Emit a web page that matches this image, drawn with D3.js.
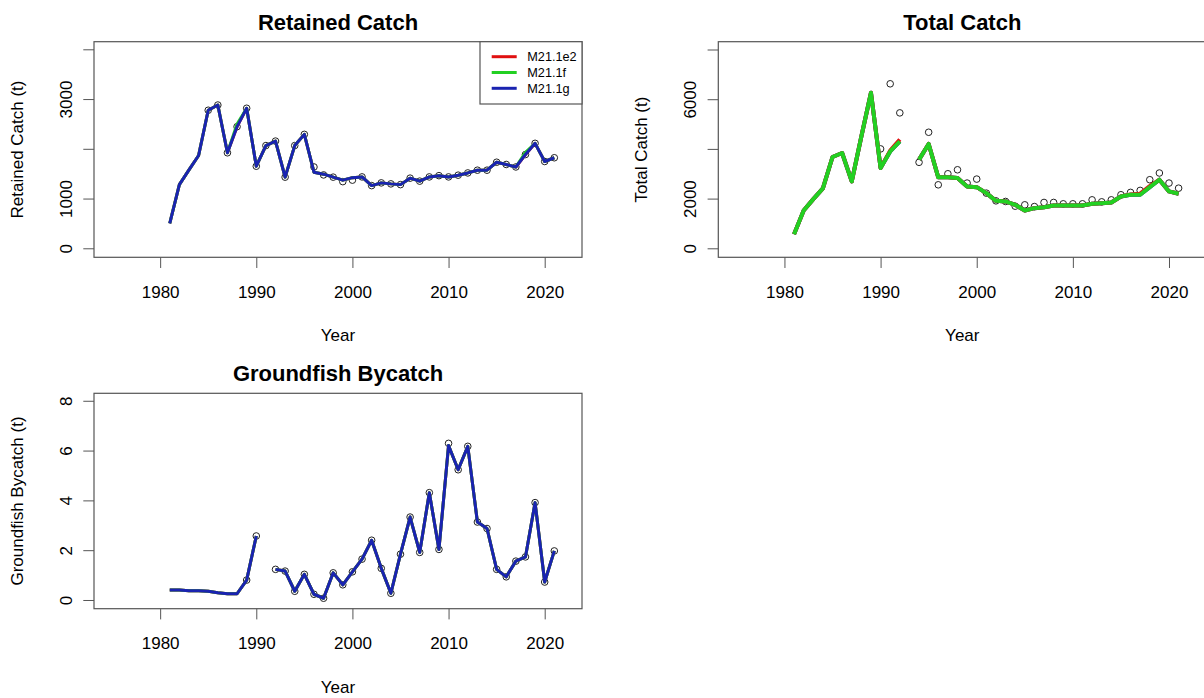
<!DOCTYPE html>
<html>
<head>
<meta charset="utf-8">
<script src="https://cdn.jsdelivr.net/npm/d3@7"></script>
<style>
  html, body { margin: 0; padding: 0; background: #fff; }
  svg { display: block; }
  text { font-family: "Liberation Sans", Arial, sans-serif; fill: #000; }
</style>
</head>
<body>
<svg id="chart" width="1204" height="698"></svg>
<script>
// ---- data -------------------------------------------------------------
const years = [1981,1982,1983,1984,1985,1986,1987,1988,1989,1990,
               1991,1992,1993,1994,1995,1996,1997,1998,1999,2000,
               2001,2002,2003,2004,2005,2006,2007,2008,2009,2010,
               2011,2012,2013,2014,2015,2016,2017,2018,2019,2020,2021];

const models = ["M21.1e2", "M21.1f", "M21.1g"];
const modelColors = ["#e01010", "#22d022", "#1a23b0"];

// Retained catch (t)
const retainedObs = [null,null,null,null,2775,2880,1920,2445,2815,1650,
                     2065,2155,1430,2065,2290,1635,1475,1430,1340,1370,
                     1435,1260,1315,1295,1280,1410,1350,1435,1460,1435,
                     1470,1515,1570,1570,1730,1685,1635,1885,2110,1745,1820];
const retainedE2  = [500,1280,1575,1865,2775,2880,1920,2445,2815,1650,
                     2065,2155,1430,2065,2290,1530,1490,1430,1370,1420,
                     1435,1260,1315,1295,1280,1410,1350,1435,1460,1435,
                     1470,1515,1570,1570,1730,1685,1635,1885,2110,1745,1820];
const retainedF   = [500,1280,1575,1865,2775,2880,1920,2500,2815,1650,
                     2065,2155,1430,2065,2290,1530,1490,1430,1370,1420,
                     1435,1260,1315,1295,1280,1410,1350,1435,1460,1435,
                     1470,1515,1570,1570,1730,1685,1635,1930,2110,1745,1820];
const retainedG   = [500,1280,1575,1865,2775,2880,1920,2445,2815,1650,
                     2065,2155,1430,2065,2290,1530,1490,1430,1370,1420,
                     1435,1260,1315,1295,1280,1410,1350,1435,1460,1435,
                     1470,1515,1570,1570,1730,1685,1635,1885,2110,1745,1820];

// Total catch (t)
const totalObs = [null,null,null,null,null,null,null,null,null,4000,
                  6620,5450,null,3460,4670,2555,3000,3160,2625,2785,
                  2220,1910,1885,1695,1750,1680,1845,1845,1790,1790,
                  1790,1950,1870,1950,2155,2250,2330,2760,3030,2625,2420];
const totalE2  = [565,1520,1980,2410,3675,3835,2690,4500,6260,3230,
                  3930,4380,null,3570,4200,2855,2855,2830,2490,2460,
                  2220,1910,1885,1750,1520,1615,1655,1720,1720,1720,
                  1720,1790,1815,1845,2085,2170,2200,2500,2760,2290,2195];
const totalF   = [565,1520,1980,2410,3675,3835,2690,4500,6260,3230,
                  3900,4300,null,3570,4200,2855,2855,2830,2490,2460,
                  2220,1910,1885,1750,1520,1615,1655,1720,1720,1720,
                  1720,1790,1815,1845,2085,2155,2155,2460,2760,2290,2195];
const totalG   = [565,1520,1980,2410,3675,3835,2690,4500,6260,3230,
                  3900,4300,null,3570,4200,2855,2855,2830,2490,2460,
                  2220,1910,1885,1750,1520,1615,1655,1720,1720,1720,
                  1720,1790,1815,1845,2085,2155,2155,2460,2760,2290,2195];

// Groundfish bycatch (t)
const bycatchObs = [null,null,null,null,null,null,null,null,0.80,2.57,
                    null,1.23,1.16,0.35,1.03,0.23,0.07,1.09,0.61,1.13,
                    1.64,2.40,1.27,0.27,1.84,3.33,1.91,4.31,2.03,6.29,
                    5.23,6.17,3.13,2.87,1.23,0.93,1.56,1.73,3.91,0.72,1.97];
const bycatchFit = [0.40,0.40,0.37,0.37,0.35,0.29,0.25,0.25,0.80,2.57,
                    null,1.23,1.16,0.35,1.03,0.23,0.07,1.09,0.61,1.13,
                    1.64,2.40,1.27,0.27,1.84,3.33,1.91,4.31,2.03,6.20,
                    5.23,6.17,3.13,2.87,1.23,0.93,1.56,1.73,3.91,0.72,1.97];

// axis ticks and labels
const xTicks = [1980, 1990, 2000, 2010, 2020];
const retainedTicks = [0, 1000, 2000, 3000, 4000];
const retainedLabels = ["0", "1000", "", "3000", ""];
const totalTicks = [0, 2000, 4000, 6000, 8000];
const totalLabels = ["0", "2000", "", "6000", ""];
const bycatchTicks = [0, 2, 4, 6, 8];
const bycatchLabels = ["0", "2", "4", "6", "8"];

// ---- drawing ----------------------------------------------------------
const svg = d3.select("#chart");
const axisColor = "#555";
const xDomain = [1973.12, 2023.88];

function panel(opts) {
  const { left, right, top, bottom } = opts.box;
  const g = svg.append("g");
  const x = d3.scaleLinear().domain(xDomain).range([left, right]);
  const y = d3.scaleLinear().domain(opts.yDomain).range([bottom, top]);

  // clip region for marks
  const clipId = "clip-" + opts.id;
  svg.append("clipPath").attr("id", clipId)
    .append("rect").attr("x", left).attr("y", top)
    .attr("width", right - left).attr("height", bottom - top);
  const marks = g.append("g").attr("clip-path", `url(#${clipId})`);

  // observations: open circles
  marks.selectAll("circle.obs")
    .data(years.map((yr, i) => ({ yr, v: opts.obs[i] })).filter(d => d.v != null))
    .join("circle")
    .attr("class", "obs")
    .attr("cx", d => x(d.yr))
    .attr("cy", d => y(d.v))
    .attr("r", 3.3)
    .attr("fill", "none")
    .attr("stroke", "#222")
    .attr("stroke-width", 1);

  // model fits
  const line = d3.line()
    .defined(d => d.v != null)
    .x(d => x(d.yr))
    .y(d => y(d.v));
  opts.fits.forEach(f => {
    marks.append("path")
      .datum(years.map((yr, i) => ({ yr, v: f.values[i] })))
      .attr("d", line)
      .attr("fill", "none")
      .attr("stroke", f.color)
      .attr("stroke-width", f.width)
      .attr("stroke-linejoin", "round")
      .attr("stroke-linecap", "butt");
  });

  // x axis
  const xAxis = g.append("g")
    .attr("transform", `translate(0,${bottom})`)
    .call(d3.axisBottom(x).tickValues(xTicks).tickFormat(d3.format("d"))
      .tickSize(10.7).tickPadding(17.5));
  xAxis.select(".domain").remove();
  xAxis.selectAll("line").attr("stroke", axisColor);
  xAxis.selectAll("text").attr("font-size", 17).attr("fill", "#000")
    .style("font-family", "'Liberation Sans', Arial, sans-serif");

  // y axis with labels written along the axis
  const yAxis = g.append("g")
    .attr("transform", `translate(${left},0)`)
    .call(d3.axisLeft(y).tickValues(opts.yTicks)
      .tickFormat((d, i) => opts.yLabels[i]).tickSize(10.7));
  yAxis.select(".domain").remove();
  yAxis.selectAll("line").attr("stroke", axisColor);
  yAxis.selectAll("text")
    .attr("transform", "rotate(-90)")
    .attr("x", 0).attr("y", -22).attr("dy", 0)
    .attr("text-anchor", "middle")
    .attr("font-size", 17).attr("fill", "#000")
    .style("font-family", "'Liberation Sans', Arial, sans-serif");

  // plot frame
  g.append("rect")
    .attr("x", left).attr("y", top)
    .attr("width", right - left).attr("height", bottom - top)
    .attr("fill", "none").attr("stroke", axisColor).attr("stroke-width", 1.2);

  // title and axis titles
  g.append("text")
    .attr("x", (left + right) / 2).attr("y", top - 12)
    .attr("text-anchor", "middle")
    .attr("font-size", 22).attr("font-weight", "bold")
    .text(opts.title);
  g.append("text")
    .attr("x", (left + right) / 2).attr("y", bottom + 84)
    .attr("text-anchor", "middle")
    .attr("font-size", 17)
    .text("Year");
  g.append("text")
    .attr("transform", `translate(${left - 71},${(top + bottom) / 2}) rotate(-90)`)
    .attr("text-anchor", "middle")
    .attr("font-size", 17)
    .text(opts.yTitle);

  return { g, x, y, box: opts.box };
}

const p1 = panel({
  id: "retained",
  box: { left: 94, right: 582, top: 41.7, bottom: 257.3 },
  yDomain: [-181, 4153],
  yTicks: retainedTicks, yLabels: retainedLabels,
  obs: retainedObs,
  fits: [
    { values: retainedE2, color: modelColors[0], width: 3 },
    { values: retainedF,  color: modelColors[1], width: 3 },
    { values: retainedG,  color: modelColors[2], width: 3 }
  ],
  title: "Retained Catch",
  yTitle: "Retained Catch (t)"
});

panel({
  id: "total",
  box: { left: 718.3, right: 1206.3, top: 41.7, bottom: 257.3 },
  yDomain: [-362, 8314],
  yTicks: totalTicks, yLabels: totalLabels,
  obs: totalObs,
  fits: [
    { values: totalG,  color: modelColors[2], width: 4 },
    { values: totalE2, color: modelColors[0], width: 4 },
    { values: totalF,  color: modelColors[1], width: 4 }
  ],
  title: "Total Catch",
  yTitle: "Total Catch (t)"
});

panel({
  id: "bycatch",
  box: { left: 94, right: 582, top: 393.3, bottom: 608.7 },
  yDomain: [-0.35, 8.3],
  yTicks: bycatchTicks, yLabels: bycatchLabels,
  obs: bycatchObs,
  fits: [
    { values: bycatchFit, color: modelColors[0], width: 3 },
    { values: bycatchFit, color: modelColors[1], width: 3 },
    { values: bycatchFit, color: modelColors[2], width: 3 }
  ],
  title: "Groundfish Bycatch",
  yTitle: "Groundfish Bycatch (t)"
});

// legend in the top-right corner of the first panel
(function legend() {
  const b = p1.box;
  const w = 102, h = 62.3;
  const lg = svg.append("g").attr("transform", `translate(${b.right - w},${b.top})`);
  lg.append("rect").attr("width", w).attr("height", h)
    .attr("fill", "#fff").attr("stroke", axisColor).attr("stroke-width", 1.2);
  models.forEach((m, i) => {
    const yy = 15 + i * 15.8;
    lg.append("line").attr("x1", 11.7).attr("x2", 36.7)
      .attr("y1", yy).attr("y2", yy)
      .attr("stroke", modelColors[i]).attr("stroke-width", 3);
    lg.append("text").attr("x", 47.3).attr("y", yy)
      .attr("dy", "0.35em").attr("font-size", 12.7).text(m);
  });
})();
</script>
</body>
</html>
